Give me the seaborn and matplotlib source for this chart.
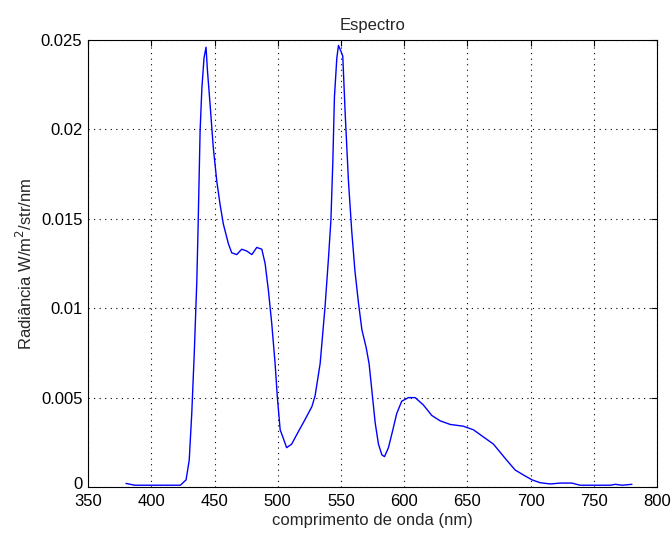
import matplotlib
matplotlib.use("Agg")
import matplotlib.pyplot as plt
import matplotlib.transforms as mtransforms
import seaborn as sns

# wavelength (nm) and radiance values
wavelength = [380, 387, 400, 423, 427.5, 430, 432, 434, 436, 437, 438.6, 440, 441.7, 443.3,
              444.4, 446.5, 449, 451.8, 454.4, 457, 461, 463.6, 467.6, 471.5, 475.5, 479.5,
              483.4, 487.4, 490, 492.6, 495.3, 497.9, 499.7, 501.9, 504, 507, 511, 516.3,
              521, 527, 529.5, 533.5, 537.4, 540, 542, 543.5, 544.8, 546.7, 548, 549.8,
              551.4, 553.3, 555.9, 558.5, 561, 563.8, 566.5, 569.9, 572.2, 574.4, 577,
              579.6, 582.3, 584.4, 587.5, 591, 594, 598, 603.3, 608.6, 615, 621.8, 628.4,
              636.3, 646.8, 654.7, 662.6, 670.5, 681, 687.7, 694.3, 701, 707.5, 715.4,
              723.3, 732.5, 739, 749.7, 763, 766.8, 772.3, 780]
radiance = [0.0002, 0.0001, 0.0001, 0.0001, 0.0004, 0.0015, 0.0041, 0.0075, 0.0115, 0.0145,
            0.0199, 0.0223, 0.0240, 0.0246, 0.0233, 0.0214, 0.0190, 0.0171, 0.0158, 0.0147,
            0.0136, 0.0131, 0.0130, 0.0133, 0.0132, 0.0130, 0.0134, 0.0133, 0.0125, 0.0110,
            0.0091, 0.0069, 0.0050, 0.0032, 0.0028, 0.0022, 0.0024, 0.0031, 0.0037, 0.0045,
            0.0051, 0.0069, 0.0101, 0.0127, 0.0149, 0.0181, 0.0218, 0.0240, 0.0247, 0.0244,
            0.0241, 0.0209, 0.0171, 0.0143, 0.0121, 0.0103, 0.0088, 0.0078, 0.0069, 0.0054,
            0.0036, 0.0024, 0.0018, 0.0017, 0.0022, 0.0032, 0.0041, 0.0048, 0.0050, 0.0050,
            0.0046, 0.0040, 0.0037, 0.0035, 0.0034, 0.0032, 0.0028, 0.0024, 0.0015, 0.00095,
            0.00067, 0.0004, 0.00024, 0.00017, 0.00022, 0.00022, 0.0001, 0.0001, 0.0001,
            0.00015, 0.0001, 0.00015]

x_ticks = [350, 400, 450, 500, 550, 600, 650, 700, 750, 800]
y_ticks = [0, 0.005, 0.01, 0.015, 0.02, 0.025]
y_ticklabels = ["0", "0.005", "0.01", "0.015", "0.02", "0.025"]

sns.set_style("white")
plt.rcParams["font.family"] = ["Liberation Sans", "DejaVu Sans"]

fig = plt.figure(figsize=(6.72, 5.34), dpi=100)
ax = fig.add_axes([0.131, 0.088, 0.847, 0.837])

sns.lineplot(x=wavelength, y=radiance, ax=ax, color="#0000ff", linewidth=1.0)

ax.set_xlim(350, 800)
ax.set_ylim(0, 0.025)
ax.set_xticks(x_ticks)
ax.set_yticks(y_ticks)
ax.set_yticklabels(y_ticklabels)
ax.grid(True, linestyle=(0, (1, 4)), color="black", linewidth=0.8)
ax.tick_params(direction="in", top=True, right=True, labelsize=12, length=4, colors="black")
ax.tick_params(axis="x", pad=5)
ax.tick_params(axis="y", pad=4)
for s in ax.spines.values():
    s.set_color("black")
    s.set_linewidth(0.8)

# MATLAB nudges the bottom "0" up a little, above the "350"
zero_lbl = ax.get_yticklabels()[0]
zero_lbl.set_transform(zero_lbl.get_transform() +
                       mtransforms.ScaledTranslation(0, 3 / 72, fig.dpi_scale_trans))

ax.set_title("Espectro", fontsize=12, pad=7)
ax.set_xlabel("comprimento de onda (nm)", fontsize=12, labelpad=3)
ax.set_ylabel("Radiância W/m$^2$/str/nm", fontsize=12, labelpad=4)

fig.savefig("out.png", dpi=100)
plt.close(fig)
